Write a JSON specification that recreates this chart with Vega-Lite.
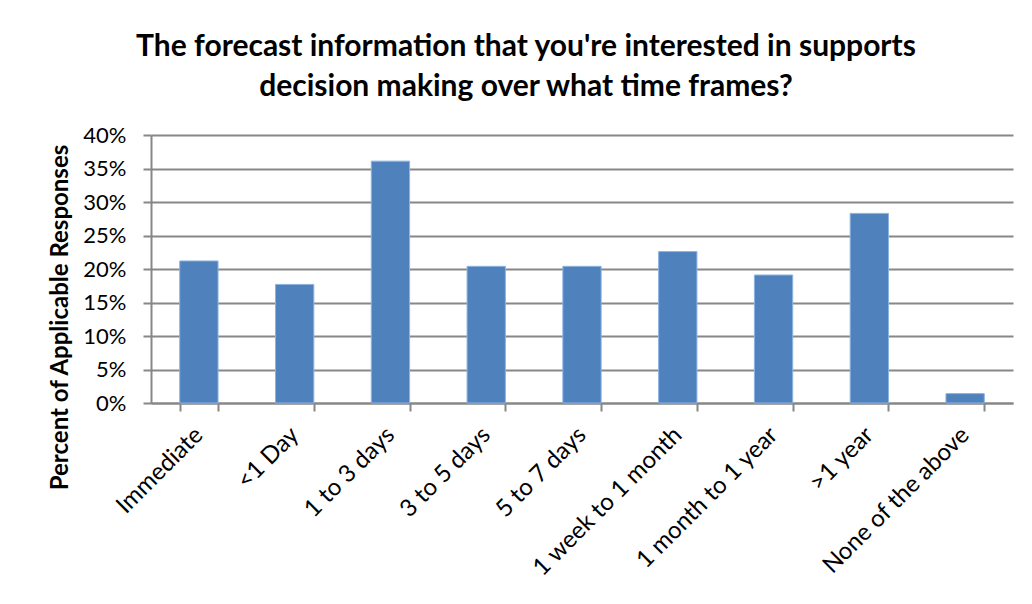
{
  "$schema": "https://vega.github.io/schema/vega-lite/v6.json",
  "autosize": {"type": "none"},
  "width": 862,
  "height": 268,
  "padding": {"left": 151, "top": 135, "right": 19, "bottom": 201},
  "background": "white",
  "title": {
    "text": ["The forecast information that you're interested in supports", "decision making over what time frames?"],
    "font": "Lato",
    "fontSize": 30,
    "fontWeight": "bold",
    "color": "black",
    "anchor": "middle",
    "dx": -56,
    "offset": 22,
    "lineHeight": 40
  },
  "data": {
    "values": [
      {"category": "Immediate", "value": 0.212},
      {"category": "<1 Day", "value": 0.177},
      {"category": "1 to 3 days", "value": 0.361},
      {"category": "3 to 5 days", "value": 0.204},
      {"category": "5 to 7 days", "value": 0.204},
      {"category": "1 week to 1 month", "value": 0.226},
      {"category": "1 month to 1 year", "value": 0.191},
      {"category": ">1 year", "value": 0.283},
      {"category": "None of the above", "value": 0.014}
    ]
  },
  "mark": {"type": "bar", "color": "#4F81BD", "stroke": "#8DB3E2", "strokeWidth": 1},
  "encoding": {
    "x": {
      "field": "category",
      "type": "nominal",
      "sort": null,
      "scale": {"paddingInner": 0.6, "paddingOuter": 0.3},
      "axis": {
        "title": null,
        "labelAngle": -45,
        "labelAlign": "right",
        "labelBaseline": "middle",
        "labelFont": "Lato",
        "labelFontSize": 24,
        "labelColor": "black",
        "labelPadding": 20,
        "labelOverlap": false,
        "labelLimit": 400,
        "tickBand": "extent",
        "tickSize": 8,
        "tickColor": "#878787",
        "tickWidth": 2,
        "domainColor": "#878787",
        "domainWidth": 2,
        "grid": false
      }
    },
    "y": {
      "field": "value",
      "type": "quantitative",
      "scale": {"domain": [0, 0.4], "nice": false},
      "axis": {
        "title": "Percent of Applicable Responses",
        "titleFont": "Lato",
        "titleFontSize": 24,
        "titleFontWeight": "bold",
        "titleColor": "black",
        "titleY": 182,
        "titleX": -91,
        "titleAngle": -90,
        "titleAlign": "center",
        "titleBaseline": "middle",
        "format": ".0%",
        "values": [0, 0.05, 0.1, 0.15, 0.2, 0.25, 0.3, 0.35, 0.4],
        "labelFont": "Lato",
        "labelFontSize": 22,
        "labelColor": "black",
        "labelPadding": 17,
        "labelOverlap": false,
        "tickSize": 8,
        "tickColor": "#878787",
        "tickWidth": 2,
        "domainColor": "#878787",
        "domainWidth": 2,
        "grid": true,
        "gridColor": "#878787",
        "gridWidth": 2
      }
    }
  },
  "config": {"view": {"stroke": null}}
}
